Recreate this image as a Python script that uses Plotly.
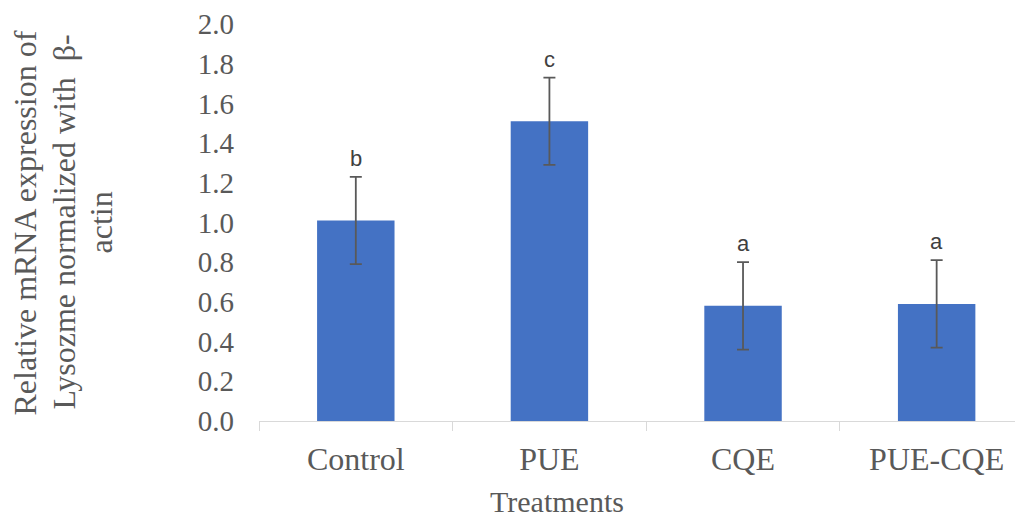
import plotly.graph_objects as go

categories = ["Control", "PUE", "CQE", "PUE-CQE"]
values = [1.01, 1.51, 0.58, 0.59]
errors = [0.22, 0.22, 0.22, 0.22]
letters = ["b", "c", "a", "a"]
y_ticks = [0.0, 0.2, 0.4, 0.6, 0.8, 1.0, 1.2, 1.4, 1.6, 1.8, 2.0]
y_title_lines = ["Relative mRNA expression of", "Lysozme normalized with  β-", "actin"]

serif = "Liberation Serif, Times New Roman, serif"
gray = "#595959"

fig = go.Figure()
fig.add_trace(go.Bar(
    x=categories, y=values, width=0.4,
    marker=dict(color="#4472C4", line=dict(width=0)),
    error_y=dict(type="data", array=errors, visible=True,
                 color=gray, thickness=1.8, width=6),
    hoverinfo="skip",
))

for c, v, e, t in zip(categories, values, errors, letters):
    fig.add_annotation(x=c, y=v + e, text=t, showarrow=False,
                       yanchor="bottom", yshift=4,
                       font=dict(family="Liberation Sans, Arial, sans-serif",
                                 size=22, color="#404040"))

for line, xp in zip(y_title_lines, [-0.3063, -0.2565, -0.2081]):
    fig.add_annotation(
        text=line, xref="paper", yref="paper", x=xp, y=0.5,
        xanchor="center", yanchor="middle", textangle=-90, showarrow=False,
        font=dict(family=serif, size=32, color=gray))

fig.add_annotation(
    text="Treatments", xref="paper", yref="paper", x=0.39, y=-0.204,
    xanchor="center", yanchor="middle", showarrow=False,
    font=dict(family=serif, size=30, color=gray))

fig.update_layout(
    width=1015, height=516,
    margin=dict(l=251, r=0, t=16, b=103),
    paper_bgcolor="white", plot_bgcolor="white",
    showlegend=False,
    xaxis=dict(
        type="category", range=[-0.5, 3.446],
        showline=True, linecolor="#d9d9d9", linewidth=1.3,
        ticks="outside", tickson="boundaries", ticklen=9,
        tickcolor="#d9d9d9", tickwidth=1.3,
        tickfont=dict(family=serif, size=32, color=gray),
        ticklabelstandoff=9,
        showgrid=False, zeroline=False,
    ),
    yaxis=dict(
        range=[0, 2.0], tickvals=y_ticks,
        ticktext=[f"{v:.1f}" for v in y_ticks],
        showline=False, ticks="", showgrid=False, zeroline=False,
        tickfont=dict(family=serif, size=29, color=gray),
        ticklabelstandoff=24,
    ),
)

fig.write_html("out.html")
